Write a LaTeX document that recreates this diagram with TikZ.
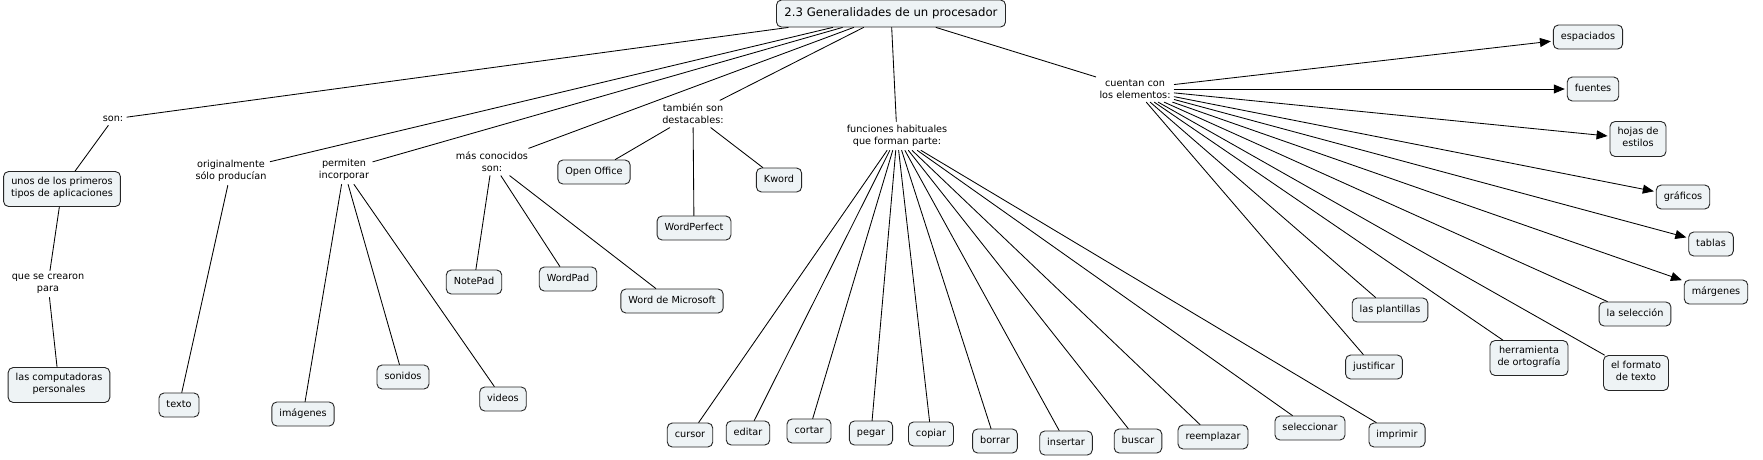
\documentclass[tikz,border=0pt]{standalone}
\usepackage{fontspec}
\setmainfont{DejaVu Sans}
\usepackage[svgnames]{xcolor}
\usepackage{tikz}
\usetikzlibrary{arrows.meta}
\definecolor{boxfill}{HTML}{EEF3F5}

\begin{document}
\begin{tikzpicture}[line cap=round,line join=round,x=1pt,y=-1pt,
  concept/.style={draw=black!85,fill=boxfill,line width=.9pt,rounded corners=5pt,inner xsep=7.5pt,inner ysep=6pt,align=center,font=\fontsize{9.7}{12}\selectfont,execute at begin node=\strut,execute at end node=\strut},
  rootbox/.style={concept,inner xsep=8pt,inner ysep=6.5pt,font=\fontsize{11.7}{14}\selectfont},
  phrase/.style={inner sep=3.5pt,align=center,font=\fontsize{9.7}{12}\selectfont},
  link/.style={line width=.85pt},
  arrowlink/.style={line width=.85pt,shorten >=2pt,-{Triangle[length=11pt,width=9pt]}}]
\clip(0,0) rectangle (1763,459);

\node[rootbox] (root) at (891,13.5) {2.3 Generalidades de un procesador};

% primeras aplicaciones
\node[phrase] (son) at (113,119) {son:};
\node[concept] (unos) at (62,189) {unos de los primeros\\tipos de aplicaciones};
\node[phrase] (crearon) at (48,284) {que se crearon\\para};
\node[concept] (compu) at (59,385) {las computadoras\\personales};

\node[phrase] (orig) at (231,171) {originalmente\\sólo producían};
\node[concept] (texto) at (179,405) {texto};

\node[phrase] (permiten) at (344,170) {permiten\\incorporar};
\node[concept] (imagenes) at (303,414) {imágenes};
\node[concept] (sonidos) at (403,377) {sonidos};
\node[concept] (videos) at (503,399) {videos};

% programas
\node[phrase] (conocidos) at (492,162) {más conocidos\\son:};
\node[concept] (notepad) at (474,282) {NotePad};
\node[concept] (wordpad) at (568,279) {WordPad};
\node[concept] (msword) at (672,301) {Word de Microsoft};

\node[phrase] (tambien) at (693,114) {también son\\destacables:};
\node[concept] (openoffice) at (594,172) {Open Office};
\node[concept] (wordperfect) at (694,228) {WordPerfect};
\node[concept] (kword) at (779,180) {Kword};

% funciones
\node[phrase] (funciones) at (897,136) {funciones habituales\\que forman parte:};
\node[concept] (cursor) at (690,435) {cursor};
\node[concept] (editar) at (748,433) {editar};
\node[concept] (cortar) at (809,431) {cortar};
\node[concept] (pegar) at (871,433) {pegar};
\node[concept] (copiar) at (931,434) {copiar};
\node[concept] (borrar) at (995,441) {borrar};
\node[concept] (insertar) at (1066,443) {insertar};
\node[concept] (buscar) at (1138,441) {buscar};
\node[concept] (reemplazar) at (1213,437) {reemplazar};
\node[concept] (seleccionar) at (1310,428) {seleccionar};
\node[concept] (imprimir) at (1397,435) {imprimir};

% elementos
\node[phrase] (cuentan) at (1135,89) {cuentan con\\los elementos:};
\node[concept] (espaciados) at (1588,37) {espaciados};
\node[concept] (fuentes) at (1593,89) {fuentes};
\node[concept] (hojas) at (1638,139) {hojas de\\estilos};
\node[concept] (graficos) at (1683,197) {gráficos};
\node[concept] (tablas) at (1711,244) {tablas};
\node[concept] (margenes) at (1716,292) {márgenes};
\node[concept] (laseleccion) at (1635,314) {la selección};
\node[concept] (formato) at (1636,373) {el formato\\de texto};
\node[concept] (herramienta) at (1529,358) {herramienta\\de ortografía};
\node[concept] (plantillas) at (1390,310) {las plantillas};
\node[concept] (justificar) at (1374,367) {justificar};

\path (root) edge[link] (son) edge[link] (orig) edge[link] (permiten) edge[link] (conocidos)
  edge[link] (tambien) edge[link] (funciones) edge[link] (cuentan);
\path (son) edge[link] (unos);
\path (unos) edge[link] (crearon);
\path (crearon) edge[link] (compu);
\path (orig) edge[link] (texto);
\path (permiten) edge[link] (imagenes) edge[link] (sonidos) edge[link] (videos);
\path (conocidos) edge[link] (notepad) edge[link] (wordpad) edge[link] (msword);
\path (tambien) edge[link] (openoffice) edge[link] (wordperfect) edge[link] (kword);
\path (funciones) edge[link] (cursor) edge[link] (editar) edge[link] (cortar) edge[link] (pegar)
  edge[link] (copiar) edge[link] (borrar) edge[link] (insertar) edge[link] (buscar)
  edge[link] (reemplazar) edge[link] (seleccionar) edge[link] (imprimir);
\path (cuentan) edge[arrowlink] (espaciados) edge[arrowlink] (fuentes) edge[arrowlink] (hojas)
  edge[arrowlink] (graficos) edge[arrowlink] (tablas) edge[arrowlink] (margenes);
\path (cuentan) edge[link] (laseleccion) edge[link] (formato) edge[link] (herramienta)
  edge[link] (plantillas) edge[link] (justificar);
\end{tikzpicture}
\end{document}
